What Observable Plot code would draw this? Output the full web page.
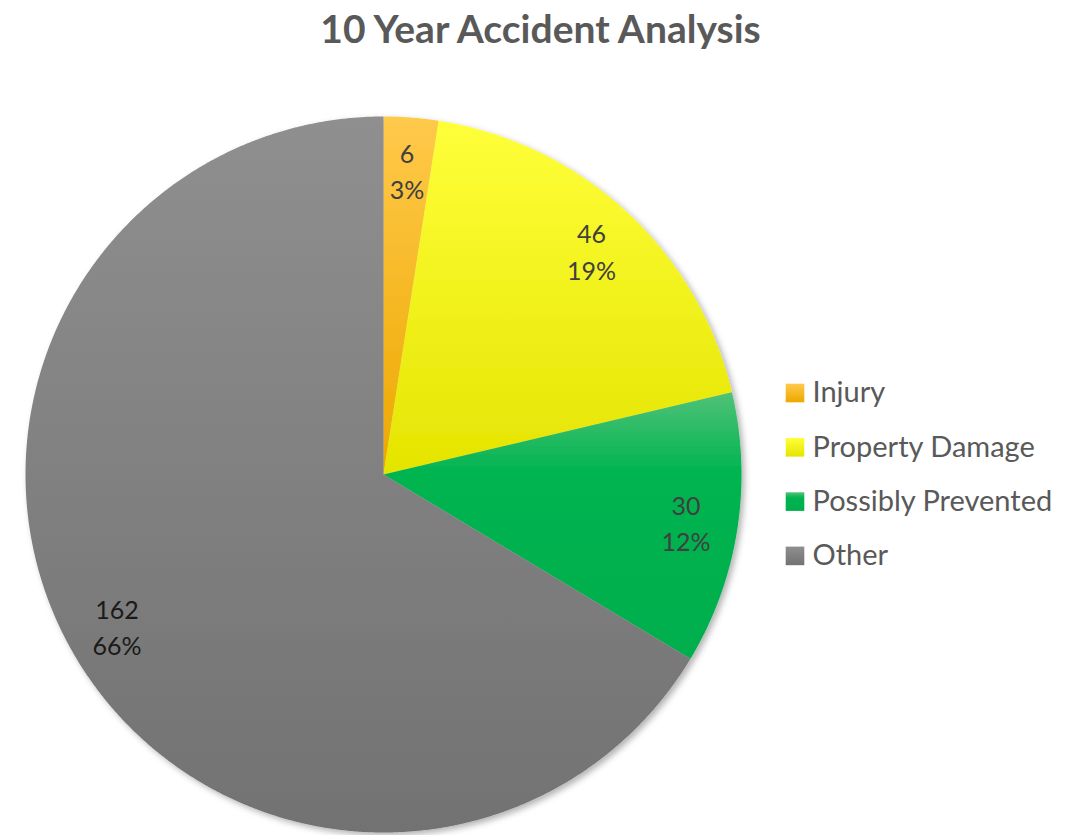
<!DOCTYPE html>
<html>
<head>
<meta charset="utf-8">
<script src="https://cdn.jsdelivr.net/npm/d3@7"></script>
<script src="https://cdn.jsdelivr.net/npm/@observablehq/plot@0.6"></script>
<style>
  html, body { margin: 0; padding: 0; background: #fff; }
  #title { height: 60px; width: 1081px; text-align: center; font-family: Lato, "Open Sans", sans-serif;
           font-weight: bold; font-size: 39px; color: #595959; line-height: 56px; }
</style>
</head>
<body>
<div id="title">10 Year Accident Analysis</div>
<div id="chart"></div>
<script>
// ---- data ----
const categories = ["Injury", "Property Damage", "Possibly Prevented", "Other"];
const counts = [6, 46, 30, 162];
const pctLabels = ["3%", "19%", "12%", "66%"];

// ---- styles ----
const gradStops = [
  [[0, "#FFC94A"], [1, "#EDA800"]],
  [[0, "#FFFF3A"], [1, "#E4E400"]],
  [[0, "#50C278"], [0.3, "#00B450"], [1, "#00AE4C"]],
  [[0, "#8F8F8F"], [1, "#727272"]]
];
const labelColors = ["#404040", "#404040", "#404040", "#1A1A1A"];

// ---- layout ----
const W = 1081, H = 775, top0 = 60;
const cx = 383, cy = 474, R = 358;

const arcs = d3.pie().sort(null).value(d => d.count)(
  categories.map((c, i) => ({cat: c, count: counts[i], i}))
);

const polys = [];
arcs.forEach(a => {
  const i = a.data.i;
  const fill = `url(#grad${i})`;
  polys.push({cat: a.data.cat, x: cx, y: cy, fill});
  const n = Math.max(2, Math.ceil((a.endAngle - a.startAngle) / 0.005));
  for (let k = 0; k <= n; k++) {
    const t = a.startAngle + (a.endAngle - a.startAngle) * k / n;
    polys.push({cat: a.data.cat, x: cx + R * Math.sin(t), y: cy - R * Math.cos(t), fill});
  }
  polys.push({cat: a.data.cat, x: cx, y: cy, fill});
});

const labels = arcs.map(a => {
  const m = (a.startAngle + a.endAngle) / 2;
  const r = 0.855 * R;
  return {x: cx + r * Math.sin(m), y: cy - r * Math.cos(m),
          text: `${a.data.count}\n${pctLabels[a.data.i]}`, color: labelColors[a.data.i]};
});

const legend = categories.map((c, i) => ({cat: c, i, fill: `url(#grad${i})`,
  x: 794.5, y: 392.5 + i * 54.3}));

const plot = Plot.plot({
  width: W, height: H,
  margin: 0,
  x: {domain: [0, W], range: [0, W], axis: null},
  y: {domain: [top0, top0 + H], range: [0, H], axis: null},
  color: {type: "identity"},
  style: {fontFamily: "Lato, 'Open Sans', sans-serif", background: "white"},
  marks: [
    Plot.line(polys, {x: "x", y: "y", z: "cat", fill: "fill", stroke: "none", curve: "linear"}),
    Plot.text(labels, {x: "x", y: "y", text: "text", fontSize: 25, lineHeight: 1.45, fill: "color"}),
    Plot.dot(legend, {x: "x", y: "y", symbol: "square", r: 10.5, fill: "fill", stroke: "none"}),
    Plot.text(legend, {x: d => d.x + 17.5, y: "y", text: "cat", textAnchor: "start", fontSize: 29, fill: "#595959"})
  ]
});

// gradients + shadow
const ns = "http://www.w3.org/2000/svg";
const defs = document.createElementNS(ns, "defs");
categories.forEach((c, i) => {
  const g = document.createElementNS(ns, "linearGradient");
  g.setAttribute("id", `grad${i}`);
  g.setAttribute("x1", "0"); g.setAttribute("y1", "0");
  g.setAttribute("x2", "0"); g.setAttribute("y2", "1");
  gradStops[i].forEach(([o, col]) => {
    const s = document.createElementNS(ns, "stop");
    s.setAttribute("offset", o); s.setAttribute("stop-color", col);
    g.appendChild(s);
  });
  defs.appendChild(g);
});
const f = document.createElementNS(ns, "filter");
f.setAttribute("id", "shadow");
f.setAttribute("x", "-10%"); f.setAttribute("y", "-10%");
f.setAttribute("width", "120%"); f.setAttribute("height", "120%");
const ds = document.createElementNS(ns, "feDropShadow");
ds.setAttribute("dx", "3"); ds.setAttribute("dy", "3"); ds.setAttribute("stdDeviation", "3");
ds.setAttribute("flood-color", "#000"); ds.setAttribute("flood-opacity", "0.3");
f.appendChild(ds);
defs.appendChild(f);
plot.insertBefore(defs, plot.firstChild);
const lineG = plot.querySelector('g[aria-label="line"]');
if (lineG) lineG.setAttribute("filter", "url(#shadow)");

document.getElementById("chart").appendChild(plot);
</script>
</body>
</html>
